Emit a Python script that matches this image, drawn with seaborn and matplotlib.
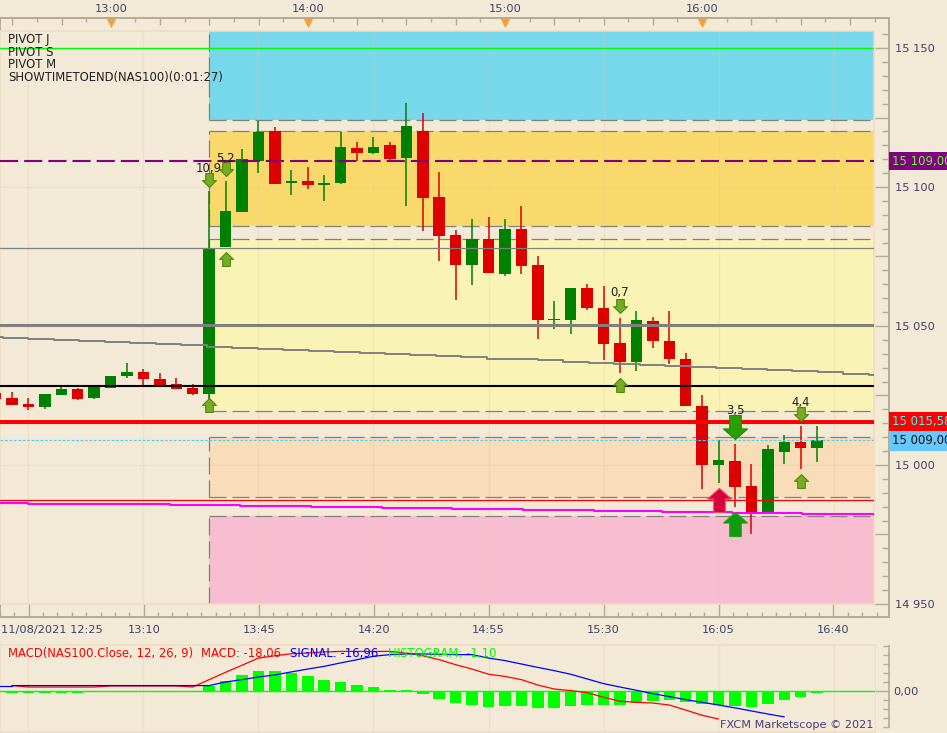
import numpy as np
import pandas as pd
import seaborn as sns
import matplotlib.pyplot as plt
from matplotlib.transforms import blended_transform_factory

# candles, 5 min, index 0 = 12:30
candle_idx = list(range(-1, 50))
opens = [15025.9, 15024.1, 15021.9, 15020.9, 15025.2, 15027.3, 15024.1, 15027.7, 15032.0, 15033.5, 15030.9, 15029.1, 15027.7,
         15025.5, 15078.4, 15091.0, 15109.4, 15120.1, 15101.4, 15102.2, 15100.7, 15101.4, 15114.0, 15112.2, 15115.1, 15110.4,
         15120.1, 15096.4, 15082.7, 15071.9, 15081.3, 15068.7, 15084.9, 15071.9, 15052.2, 15052.2, 15063.7, 15056.5, 15043.9,
         15037.1, 15051.8, 15044.6, 15038.1, 15021.2, 15000.0, 15001.4, 14992.4, 14982.7, 15004.7, 15008.3, 15006.1]
highs = [15027.0, 15026.3, 15024.1, 15025.5, 15028.4, 15027.7, 15028.4, 15032.0, 15036.7, 15034.5, 15033.1, 15031.3, 15029.1,
         15098.6, 15102.2, 15113.7, 15123.7, 15121.6, 15106.1, 15107.2, 15104.3, 15119.8, 15116.2, 15118.0, 15116.2, 15130.2,
         15126.6, 15105.4, 15084.5, 15088.5, 15089.2, 15088.5, 15093.2, 15075.2, 15059.0, 15063.7, 15065.1, 15064.4, 15052.9,
         15055.4, 15053.2, 15055.4, 15040.3, 15025.2, 15009.0, 15007.6, 15000.4, 15007.2, 15010.8, 15014.0, 15014.0]
lows = [15023.7, 15021.6, 15019.8, 15020.1, 15025.2, 15023.4, 15023.7, 15027.7, 15031.3, 15028.8, 15028.8, 15027.3, 15025.2,
        15023.7, 15078.4, 15091.0, 15105.0, 15101.1, 15097.1, 15099.3, 15095.0, 15101.1, 15109.4, 15111.9, 15109.7, 15093.2,
        15084.2, 15073.4, 15059.4, 15064.8, 15069.1, 15068.0, 15068.7, 15045.3, 15048.9, 15047.1, 15055.8, 15037.8, 15033.1,
        15033.8, 15042.1, 15036.3, 15021.2, 14991.4, 14993.5, 14984.9, 14975.2, 14982.4, 15000.4, 14998.6, 15001.1]
closes = [15023.7, 15021.6, 15020.9, 15025.5, 15027.3, 15023.7, 15028.1, 15032.0, 15033.5, 15030.9, 15028.8, 15027.3, 15025.5,
          15078.2, 15091.4, 15110.1, 15119.8, 15101.1, 15102.2, 15100.7, 15101.4, 15114.4, 15112.2, 15114.4, 15110.1, 15121.9,
          15096.0, 15082.4, 15071.9, 15081.3, 15069.1, 15084.9, 15071.6, 15052.2, 15052.5, 15063.7, 15056.5, 15043.5, 15037.1,
          15052.2, 15044.6, 15038.1, 15021.2, 15000.0, 15001.8, 14992.1, 14982.7, 15005.8, 15008.3, 15006.1, 15009.0]

# pivot zones
zone_low = [15124.1, 15086.0, 15019.4, 14988.5, 14950.0]
zone_high = [15156.1, 15120.1, 15081.3, 15010.1, 14981.7]
zone_colors = ["#76d8ea", "#f9d96c", "#f9f4b5", "#f9dcb8", "#f8bdd0"]

# moving averages
gray_x = [-0.73, -0.55, 1.0, 2.55, 4.1, 5.65, 7.2, 8.75, 10.3, 11.85, 13.4, 14.95, 16.5, 18.05, 19.6, 21.15, 22.7, 24.25, 25.8,
          27.35, 28.9, 30.45, 32.0, 33.55, 35.1, 36.65, 38.2, 39.75, 41.3, 42.85, 44.4, 45.95, 47.5, 49.05, 50.6, 52.15, 52.46]
gray_y = [15046.1, 15045.7, 15045.3, 15044.9, 15044.5, 15044.1, 15043.7, 15043.4, 15043.0, 15042.6, 15042.2, 15041.8, 15041.4,
          15041.1, 15040.7, 15040.3, 15039.9, 15039.5, 15039.1, 15038.7, 15038.3, 15038.0, 15037.6, 15037.2, 15036.8, 15036.4,
          15036.0, 15035.6, 15035.2, 15034.8, 15034.5, 15034.1, 15033.7, 15033.3, 15032.9, 15032.5, 15032.5]
magenta_x = [-0.73, 1.0, 5.3, 9.6, 13.9, 18.2, 22.5, 26.8, 31.1, 35.4, 39.56, 43.8, 48.1, 52.46]
magenta_y = [14986.3, 14986.0, 14985.8, 14985.5, 14985.2, 14984.8, 14984.4, 14984.0, 14983.8, 14983.5, 14983.1, 14982.8, 14982.5, 14982.0]

# arrows
small_up_x = [12, 13, 37, 48]
small_up_y = [15021.6, 15074.1, 15028.8, 14994.3]
small_down_x = [12, 13, 37, 48]
small_down_y = [15102.5, 15106.5, 15057.2, 15018.3]
big_down_x, big_down_y = [44], [15013.7]
big_up_x, big_up_y = [44], [14978.6]
red_up_x, red_up_y = [43], [14987.4]
arrow_text = ["10,9", "5,2", "0,7", "3,5", "4,4"]
arrow_text_x = [12, 13, 37, 44, 48]
arrow_text_y = [15106.6, 15110.3, 15062.0, 15019.7, 15022.6]

# macd panel
hist_idx = list(range(0, 50))
hist_vals = [-0.9, -0.9, -0.9, -0.9, -0.9, 0, 0, 0, 0, 0, 0, 0, 3.0, 5.7, 9.1, 11.3, 11.3, 10.2, 8.5, 6.3, 5.2, 3.5, 2.4, 0.7, 0.7,
             -1.5, -4.3, -6.5, -7.6, -8.7, -8.1, -8.1, -9.3, -9.3, -8.1, -7.6, -7.6, -7.6, -6.5, -5.4, -4.8, -5.9, -7.0, -7.6,
             -8.1, -8.7, -7.0, -4.8, -3.1, -0.9]
macd_vals = [3.0, 2.2, 2.2, 2.2, 2.2, 2.2, 2.8, 2.8, 2.8, 2.8, 2.8, 2.2, 6.3, 10.4, 14.3, 18.3, 19.6, 20.7, 21.1, 21.7, 22.0, 22.0,
             22.0, 22.0, 21.1, 19.6, 17.4, 14.6, 12.2, 9.3, 8.1, 6.3, 3.3, 1.1, 0.2, -0.9, -3.5, -5.7, -6.3, -6.7, -7.8, -10.6,
             -13.5, -15.6]
signal_vals = [3.0, 3.0, 3.0, 3.0, 3.0, 3.0, 3.0, 3.0, 3.0, 3.0, 3.0, 3.0, 3.0, 5.0, 6.3, 7.8, 8.9, 10.6, 12.2, 13.7, 15.6, 17.4,
               19.3, 20.2, 20.6, 20.6, 20.4, 20.2, 20.2, 18.3, 16.9, 15.0, 13.1, 11.3, 9.3, 6.7, 4.1, 2.2, 0.4, -1.5, -3.1, -4.8,
               -6.3, -7.8, -9.4, -11.1, -12.8, -14.4]

# axis labels
top_label_idx = [6, 18, 30, 42]
top_labels = ["13:00", "14:00", "15:00", "16:00"]
bottom_label_idx = [8, 15, 22, 29, 36, 43, 50]
bottom_labels = ["13:10", "13:45", "14:20", "14:55", "15:30", "16:05", "16:40"]
grid_idx = [1, 8, 15, 22, 29, 36, 43, 50]
price_ticks = [14950, 15000, 15050, 15100, 15150]

BG = "#f2e9d6"
BORDER = "#eedcc2"
AXIS = "#b3ab96"
LABEL = "#40406e"
GREEN = "#008000"
RED = "#dc0000"
FS = 8.4
W, H = 947, 733


def rect(left, top, right, bottom):
    return [left / W, 1 - bottom / H, (right - left) / W, (bottom - top) / H]


sns.set_theme(style="white", rc={"axes.grid": False})
plt.rcParams["font.family"] = ["DejaVu Sans"]
plt.rcParams["font.size"] = FS

df = pd.DataFrame({"i": candle_idx, "o": opens, "h": highs, "l": lows, "c": closes})
df["top"] = df[["o", "c"]].max(axis=1)
df["bot"] = df[["o", "c"]].min(axis=1)
up = df[df.c >= df.o]
down = df[df.c < df.o]

fig = plt.figure(figsize=(W / 100, H / 100), dpi=100, facecolor=BG)

# outer frame with the scales
frame = fig.add_axes(rect(0, 18, 889, 617), facecolor=BG, zorder=1)
frame.set_xlim(-0.73, 53.38)
frame.set_ylim(14945.3, 15160.8)
for side in ["top", "right", "bottom", "left"]:
    frame.spines[side].set_color(AXIS)
    frame.spines[side].set_linewidth(1.4)
frame.yaxis.tick_right()
y_major = np.arange(14950, 15151, 25)
frame.set_yticks(y_major)
frame.set_yticklabels([f"{int(v // 1000)} {int(v % 1000):03d}" if v in price_ticks else "" for v in y_major])
frame.set_yticks(np.arange(14950, 15156, 5), minor=True)
frame.tick_params(axis="y", which="major", direction="in", length=10, width=1, color=AXIS, pad=4.5,
                  labelsize=8.2, labelcolor=LABEL)
frame.tick_params(axis="y", which="minor", direction="in", length=4.7, width=1, color=AXIS)
frame.set_xticks(grid_idx)
frame.set_xticklabels([""] + bottom_labels)
frame.set_xticks(np.arange(-0.75, 53.3, 0.875), minor=True)
frame.tick_params(axis="x", which="major", direction="in", length=9.4, width=1, color=AXIS, pad=5.5,
                  labelsize=8.2, labelcolor=LABEL)
frame.tick_params(axis="x", which="minor", direction="in", length=3.6, width=1, color=AXIS)
fig.text(1 / W, 1 - 630 / H, "11/08/2021 12:25", ha="left", va="center", fontsize=8.2, color=LABEL)

top = frame.twiny()
top.set_zorder(2)
top.patch.set_visible(False)
top.set_xlim(frame.get_xlim())
top.xaxis.tick_top()
top_major = np.arange(0, 53, 3)
top.set_xticks(top_major)
top.set_xticklabels([top_labels[top_label_idx.index(v)] if v in top_label_idx else "" for v in top_major])
top.set_xticks(np.arange(1.5, 53, 3), minor=True)
top.tick_params(axis="x", which="major", direction="in", length=5, width=1, color=AXIS, pad=3, labelsize=8.2, labelcolor=LABEL)
top.tick_params(axis="x", which="minor", direction="in", length=2.6, width=1, color=AXIS)
for side in ["top", "right", "bottom", "left"]:
    top.spines[side].set_visible(False)
top.scatter(top_label_idx, [0.9915] * 4, marker="v", s=46, color="#f9a030", linewidths=0, zorder=5,
            transform=blended_transform_factory(top.transData, top.transAxes), clip_on=False)

# price panel
ax = fig.add_axes(rect(0, 31, 874, 604), facecolor=BG, zorder=5)

for lo, hi, col in zip(zone_low, zone_high, zone_colors):
    ax.fill_between([12, 52.46], lo, hi, color=col, linewidth=0, zorder=1)

for v in grid_idx:
    ax.axvline(v, color="#e8c8a0", alpha=0.3, lw=1, zorder=1.5)
for v in price_ticks:
    ax.axhline(v, color="#e8c8a0", alpha=0.3, lw=1, zorder=1.5)

dash = (0, (13.6, 4.8))
for lo, hi in zip(zone_low, zone_high):
    ax.vlines(12, lo, hi, color="#808080", lw=0.9, linestyle=dash, zorder=2)
    if hi < 15156:
        ax.hlines(hi, 12, 52.46, color="#808080", lw=0.9, linestyle=dash, zorder=2)
    if lo > 14950:
        ax.hlines(lo, 12, 52.46, color="#808080", lw=0.9, linestyle=dash, zorder=2)

# candles
ax.vlines(up.i, up.l, up.h, color=GREEN, lw=1.1, zorder=3)
ax.vlines(down.i, down.l, down.h, color=RED, lw=1.1, zorder=3)
sns.barplot(x=up.i.values, y=(up.top - up.bot).values, bottom=up.bot.values, native_scale=True, color=GREEN, saturation=1,
            width=0.7, errorbar=None, linewidth=0, ax=ax, zorder=3)
sns.barplot(x=down.i.values, y=(down.top - down.bot).values, bottom=down.bot.values, native_scale=True, color=RED, saturation=1,
            width=0.7, errorbar=None, linewidth=0, ax=ax, zorder=3)

# levels
ax.axhline(15150, color="#00ff00", lw=1, zorder=4)
ax.axhline(15109.2, color="#800080", lw=1.5, linestyle=(0, (8.7, 2.9)), zorder=4)
ax.axhline(15078.2, color="#808080", lw=0.9, zorder=4)
ax.axhline(15050.4, color="#808080", lw=2.2, zorder=4)
ax.axhline(15028.4, color="black", lw=1.5, zorder=4)
ax.axhline(15015.6, color="#ff0000", lw=2.9, zorder=4)
ax.axhline(15009.0, color="#55ccff", lw=0.8, linestyle=(0, (2.5, 1.5)), zorder=4)
ax.axhline(14987.3, color="#ff0000", lw=0.9, zorder=4)
sns.lineplot(x=gray_x, y=gray_y, color="#808080", lw=1.4, drawstyle="steps-post", estimator=None, ax=ax, zorder=4)
sns.lineplot(x=magenta_x, y=magenta_y, color="#ff00ff", lw=1.5, drawstyle="steps-post", estimator=None, ax=ax, zorder=4)

# arrows
arrow = [(0, 1), (1, 0.02), (0.55, 0.02), (0.55, -1), (-0.55, -1), (-0.55, 0.02), (-1, 0.02), (0, 1)]
big_arrow = [(0, 1), (1, 0.12), (0.48, 0.12), (0.48, -1), (-0.48, -1), (-0.48, 0.12), (-1, 0.12), (0, 1)]
arrow_dn = [(x, -y) for x, y in arrow]
big_dn = [(x, -y) for x, y in big_arrow]
ax.scatter(small_up_x, small_up_y, marker=arrow, s=100, facecolor="#76ad22", edgecolor="#4f8a10", linewidths=0.8, zorder=6)
ax.scatter(small_down_x, small_down_y, marker=arrow_dn, s=100, facecolor="#76ad22", edgecolor="#4f8a10", linewidths=0.8, zorder=6)
ax.scatter(big_down_x, big_down_y, marker=big_dn, s=300, facecolor="#2aa000", edgecolor="#1f8a00", linewidths=0.8, zorder=6)
ax.scatter(big_up_x, big_up_y, marker=big_arrow, s=300, facecolor="#0f9a10", edgecolor="#1fa800", linewidths=0.8, zorder=6)
ax.scatter(red_up_x, red_up_y, marker=big_arrow, s=300, facecolor="#d8003c", edgecolor="#ff4060", linewidths=0.8, zorder=6)
for t, x, y in zip(arrow_text, arrow_text_x, arrow_text_y):
    ax.text(x, y, t, ha="center", va="center", fontsize=FS, color="#202020", zorder=7)

ax.set_xlim(-0.73, 52.46)
ax.set_ylim(14950, 15156.1)
ax.set_xticks([])
ax.set_yticks([])
ax.set_xlabel("")
ax.set_ylabel("")
for side in ax.spines:
    ax.spines[side].set_color(BORDER)
    ax.spines[side].set_linewidth(1.1)

for i, t in enumerate(["PIVOT J", "PIVOT S", "PIVOT M", "SHOWTIMETOEND(NAS100)(0:01:27)"]):
    fig.text(8 / W, 1 - (39 + 13 * i) / H, t, ha="left", va="center", fontsize=FS, color="#202020", zorder=8)

# current price tags, cut by the right edge as in the original
tag = blended_transform_factory(ax.transAxes, ax.transData)
tag_x = 892 / 874
ax.text(tag_x, 15109.2, "15 109,00", transform=tag, clip_on=False, ha="left", va="center", fontsize=FS, color="#66ff33",
        bbox=dict(boxstyle="square,pad=0.22", fc="#800080", ec="none"), zorder=8)
ax.text(tag_x, 15015.6, "15 015,58", transform=tag, clip_on=False, ha="left", va="center", fontsize=FS, color="#33ffff",
        bbox=dict(boxstyle="square,pad=0.3", fc="#ff0000", ec="none"), zorder=8)
ax.text(tag_x, 15008.7, "15 009,00", transform=tag, clip_on=False, ha="left", va="center", fontsize=FS, color="#101010",
        bbox=dict(boxstyle="square,pad=0.3", fc="#66c8ff", ec="none"), zorder=8)

# macd panel
mx = fig.add_axes(rect(0, 645, 875, 732), facecolor=BG, zorder=5)
sns.barplot(x=hist_idx, y=hist_vals, native_scale=True, color="#00ff00", saturation=1, width=0.7, errorbar=None, linewidth=0,
            ax=mx, zorder=2)
mx.axhline(0, color="#00ff00", lw=1, zorder=3)
sns.lineplot(x=list(range(0, len(macd_vals))), y=macd_vals, color="#ff0000", lw=0.9, estimator=None, ax=mx, zorder=4)
sns.lineplot(x=list(range(0, len(signal_vals))), y=signal_vals, color="#0000ff", lw=0.9, estimator=None, ax=mx, zorder=5)
mx.plot([-0.73, 0], [3.0, 3.0], color="#0000ff", lw=0.9, zorder=5)
for v in grid_idx:
    mx.axvline(v, color="#e8c8a0", alpha=0.3, lw=1, zorder=1)
mx.set_xlim(-0.73, 52.52)
mx.set_ylim(-22.8, 25.56)
mx.set_xticks([])
mx.set_xlabel("")
mx.set_ylabel("")
mx.yaxis.tick_right()
mx.set_yticks([0])
mx.set_yticklabels(["0,00"])
mx.set_yticks(np.arange(-20, 26, 5), minor=True)
mx.tick_params(axis="y", which="major", direction="in", length=10, width=1, color=AXIS, pad=3, labelsize=8.2, labelcolor=LABEL)
mx.tick_params(axis="y", which="minor", direction="in", length=4.5, width=1, color=AXIS)
for side in ["top", "bottom", "left"]:
    mx.spines[side].set_color(BORDER)
    mx.spines[side].set_linewidth(1.1)
mx.spines["right"].set_position(("outward", 10))
mx.spines["right"].set_bounds(-20, 25)
mx.spines["right"].set_color(AXIS)
mx.spines["right"].set_linewidth(1.2)
fig.add_artist(plt.Line2D([875 / W, 875 / W], [1 - 732 / H, 1 - 645 / H], color=BORDER, lw=1.1))

macd_parts = [("MACD(NAS100.Close, 12, 26, 9)", 8, "#ff0000"), ("MACD: -18,06", 201, "#ff0000"),
              ("SIGNAL: -16,96", 290, "#0000ff"), ("HISTOGRAM: -1,10", 388, "#00ff00")]
for t, x, col in macd_parts:
    fig.text(x / W, 1 - 653 / H, t, ha="left", va="center", fontsize=FS, color=col, zorder=8)
fig.text(873 / W, 1 - 725 / H, "FXCM Marketscope © 2021", ha="right", va="center", fontsize=8.15, color="#4a3a7a", zorder=8)

fig.savefig("out.png", dpi=100, facecolor=BG)
